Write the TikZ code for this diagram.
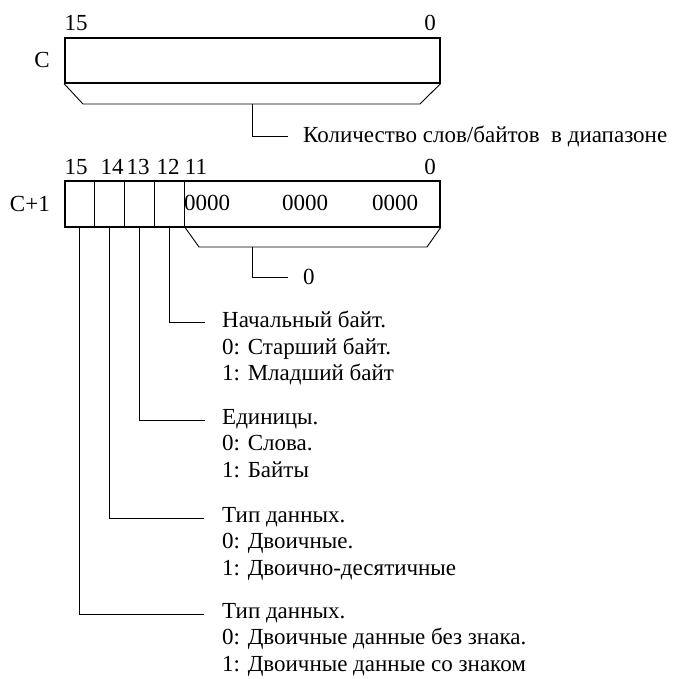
\documentclass[tikz,border=0pt]{standalone}
\usepackage{fontspec}
\setmainfont{Liberation Serif}
\usetikzlibrary{positioning}
\tikzstyle{register} = [rectangle, draw=black, line width=1.6pt, minimum width=375pt, inner sep=0pt, anchor=north west]
\tikzstyle{txt} = [inner sep=0pt, font=\fontsize{23}{26.5}\selectfont]
\tikzstyle{desc} = [txt, align=left, anchor=north west]
\tikzstyle{wire} = [line width=0.9pt]

\begin{document}
\begin{tikzpicture}[x=1pt, y=-1pt]
    \useasboundingbox (0,0) rectangle (682,678);

    % Register C
    \node (regc) [register, minimum height=45pt] at (64,37) {};
    \node (c15) [txt] at (76,23) {15};
    \node (c0) [txt] at (430,23) {0};
    \node (cname) [txt, left=14pt of regc] {C};
    \coordinate (trapc) at (252,104);
    \draw [wire] (regc.south west) -- (83,104) -- (420,104) -- (regc.south east);
    \coordinate (endc) at (288,136);
    \draw [wire] (trapc) |- (endc);
    \node (count) [txt, right=15pt of endc] {Количество слов/байтов~ в диапазоне};

    % Register C+1
    \node (regd) [register, minimum height=46pt] at (64,180) {};
    \node (dname) [txt, left=14pt of regd] {C+1};
    \foreach \x in {94,124,154,184}
        \draw [wire] (\x,180) -- (\x,226);
    \node (d15) [txt] at (76,167) {15};
    \node (d14) [txt] at (112,167) {14};
    \node (d13) [txt] at (138,167) {13};
    \node (d12) [txt] at (168,167) {12};
    \node (d11) [txt] at (196,167) {11};
    \node (d0) [txt] at (430,167) {0};
    \node (nib2) [txt] at (207,203) {0000};
    \node (nib1) [txt] at (305,203) {0000};
    \node (nib0) [txt] at (395,203) {0000};
    \coordinate (trapd) at (252,247);
    \draw [wire] (184,226) -- (199,247) -- (427,247) -- (regd.south east);
    \coordinate (endd) at (288,277);
    \draw [wire] (trapd) |- (endd);
    \node (zero) [txt, right=15pt of endd] {0};

    % Bit wires
    \coordinate (bit12) at (169,226);
    \coordinate (bit13) at (139,226);
    \coordinate (bit14) at (109,226);
    \coordinate (bit15) at (79,226);
    \coordinate (e12) at (205,322);
    \coordinate (e13) at (205,420);
    \coordinate (e14) at (204,518);
    \coordinate (e15) at (204,614);
    \draw [wire] (bit12) |- (e12);
    \draw [wire] (bit13) |- (e13);
    \draw [wire] (bit14) |- (e14);
    \draw [wire] (bit15) |- (e15);

    \node (first) [desc, right=17pt of e12, anchor=north west, yshift=11pt] {Начальный байт.\\0: Старший байт.\\1: Младший байт};
    \node (units) [desc, right=17pt of e13, anchor=north west, yshift=11pt] {Единицы.\\0: Слова.\\1: Байты};
    \node (kind) [desc, right=18pt of e14, anchor=north west, yshift=11pt] {Тип данных.\\0: Двоичные.\\1: Двоично-десятичные};
    \node (sign) [desc, right=18pt of e15, anchor=north west, yshift=11pt] {Тип данных.\\0: Двоичные данные без знака.\\1: Двоичные данные со знаком};

\end{tikzpicture}
\end{document}
